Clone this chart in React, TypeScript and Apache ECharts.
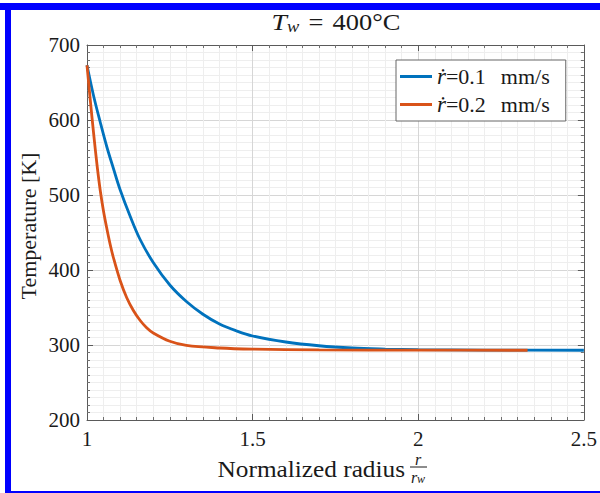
import React, { useEffect, useRef } from "react";
import * as echarts from "echarts";

// Radial temperature profiles around the heated wall (T_w = 400 °C)
const radiusSlow = [1.0, 1.02, 1.04, 1.06, 1.08, 1.1, 1.13, 1.16, 1.2, 1.25, 1.3, 1.35, 1.4, 1.45, 1.5, 1.6, 1.7, 1.8, 1.9, 2.0, 2.2, 2.5];
const tempSlow = [673, 632, 597, 564, 535, 507, 472, 441, 410, 380, 358, 341, 328, 319, 312, 304, 299, 296, 294.6, 293.8, 293.2, 293];

const radiusFast = [1.0, 1.01, 1.02, 1.03, 1.04, 1.05, 1.06, 1.07, 1.08, 1.1, 1.12, 1.14, 1.16, 1.18, 1.2, 1.25, 1.3, 1.4, 1.5, 1.7, 2.0, 2.33];
const tempFast = [673, 626, 582, 541, 506, 478, 455, 434, 416, 386, 363, 346, 333, 323, 316, 305, 299.5, 296, 294.5, 293.5, 293.2, 293];

const seriesNames = ["ṙ=0.1 mm/s", "ṙ=0.2 mm/s"];
const seriesColors = ["#0072BD", "#D95319"];

const xTicks = [1, 1.5, 2, 2.5];
const yTicks = [200, 300, 400, 500, 600, 700];

const SERIF = "'Liberation Serif', 'DejaVu Serif', serif";
const TEXT = "#1a1a1a";

export default function App() {
  const ref = useRef<HTMLDivElement>(null);

  useEffect(() => {
    document.body.style.margin = "0";
    const chart = echarts.init(ref.current!, undefined, { renderer: "svg" });

    const pair = (xs: number[], ys: number[]) => xs.map((x, i) => [x, ys[i]]);

    const baseX = {
      type: "value" as const,
      min: xTicks[0],
      max: xTicks[xTicks.length - 1],
      interval: xTicks[1] - xTicks[0],
    };
    const baseY = {
      type: "value" as const,
      min: yTicks[0],
      max: yTicks[yTicks.length - 1],
      interval: yTicks[1] - yTicks[0],
    };
    const axisLine = { show: true, lineStyle: { color: "#5a5a5a", width: 1 } };
    const tick = { show: true, inside: true, length: 6, lineStyle: { color: "#5a5a5a" } };
    const minorTick = { show: true, splitNumber: 10, length: 3, lineStyle: { color: "#707070" } };
    const majorGrid = { show: true, lineStyle: { color: "#d6d6d6", width: 1 } };
    const minorGrid = { show: true, lineStyle: { color: "#eeeeee", width: 1 } };

    chart.setOption({
      animation: false,
      backgroundColor: "#ffffff",
      grid: { left: 87, top: 45, width: 499, height: 375, containLabel: false },
      xAxis: [
        {
          ...baseX,
          position: "bottom",
          axisLine,
          axisTick: tick,
          minorTick,
          axisLabel: {
            margin: 8,
            color: TEXT,
            fontFamily: SERIF,
            fontSize: 21,
            formatter: (v: number) => String(v),
          },
          splitLine: majorGrid,
          minorSplitLine: minorGrid,
        },
        {
          ...baseX,
          position: "top",
          axisLine,
          axisTick: tick,
          minorTick,
          axisLabel: { show: false },
          splitLine: { show: false },
        },
      ],
      yAxis: [
        {
          ...baseY,
          position: "left",
          axisLine,
          axisTick: tick,
          minorTick,
          axisLabel: {
            margin: 7,
            color: TEXT,
            fontFamily: SERIF,
            fontSize: 21,
          },
          splitLine: majorGrid,
          minorSplitLine: minorGrid,
        },
        {
          ...baseY,
          position: "right",
          axisLine,
          axisTick: tick,
          minorTick,
          axisLabel: { show: false },
          splitLine: { show: false },
        },
      ],
      legend: {
        orient: "vertical",
        left: 396,
        top: 60,
        padding: [5, 16, 5, 4],
        itemGap: 5,
        itemWidth: 32,
        itemHeight: 3,
        icon: "rect",
        backgroundColor: "#ffffff",
        borderColor: "#666",
        borderWidth: 1,
        borderRadius: 0,
        data: seriesNames,
        formatter: (name: string) => {
          const [lhs, unit] = name.split(" ");
          return `{i|${lhs.charAt(0)}}{n|${lhs.slice(1)}}{u|${unit}}`;
        },
        textStyle: {
          color: TEXT,
          fontFamily: SERIF,
          fontSize: 22,
          rich: {
            i: { fontFamily: SERIF, fontStyle: "italic", fontSize: 23, color: TEXT },
            n: { fontFamily: SERIF, fontSize: 22, color: TEXT },
            u: { fontFamily: SERIF, fontSize: 22, color: TEXT, padding: [0, 0, 0, 15] },
          },
        },
      },
      series: [
        {
          name: seriesNames[0],
          type: "line",
          data: pair(radiusSlow, tempSlow),
          smooth: 0.35,
          showSymbol: false,
          lineStyle: { color: seriesColors[0], width: 2.8 },
          itemStyle: { color: seriesColors[0] },
          z: 3,
        },
        {
          name: seriesNames[1],
          type: "line",
          data: pair(radiusFast, tempFast),
          smooth: 0.35,
          showSymbol: false,
          lineStyle: { color: seriesColors[1], width: 2.8 },
          itemStyle: { color: seriesColors[1] },
          z: 4,
        },
      ],
      graphic: [
        // frame
        { type: "rect", shape: { x: 0, y: 3, width: 600, height: 7 }, style: { fill: "#0000ff" }, silent: true },
        { type: "rect", shape: { x: 5, y: 3, width: 6, height: 490 }, style: { fill: "#0000ff" }, silent: true },
        { type: "rect", shape: { x: 5, y: 491, width: 595, height: 2 }, style: { fill: "#0000ff" }, silent: true },
        // title
        {
          type: "text",
          x: 336,
          y: 22,
          scaleX: 1.15,
          style: {
            text: "{t|T}{s|w}{e|=}{n|400°C}",
            align: "center",
            verticalAlign: "middle",
            fill: TEXT,
            rich: {
              t: { fontFamily: SERIF, fontStyle: "italic", fontSize: 24, lineHeight: 26, fill: TEXT },
              s: { fontFamily: SERIF, fontStyle: "italic", fontSize: 16, lineHeight: 14, verticalAlign: "bottom", fill: TEXT },
              e: { fontFamily: SERIF, fontSize: 23, lineHeight: 26, padding: [0, 8, 0, 8], fill: TEXT },
              n: { fontFamily: SERIF, fontSize: 23, lineHeight: 26, fill: TEXT },
            },
          },
        },
        // y-axis name
        {
          type: "text",
          x: 28,
          y: 226,
          rotation: Math.PI / 2,
          style: {
            text: "Temperature [K]",
            align: "center",
            verticalAlign: "middle",
            fontFamily: SERIF,
            fontSize: 22,
            fill: TEXT,
          },
        },
        // x-axis name with fraction r / r_w
        {
          type: "text",
          x: 405,
          y: 469,
          scaleX: 1.1,
          style: {
            text: "Normalized radius",
            align: "right",
            verticalAlign: "middle",
            fontFamily: SERIF,
            fontSize: 23,
            fill: TEXT,
          },
        },
        {
          type: "text",
          x: 418,
          y: 459,
          style: {
            text: "r",
            align: "center",
            verticalAlign: "middle",
            fontFamily: SERIF,
            fontStyle: "italic",
            fontSize: 16,
            fill: TEXT,
          },
        },
        {
          type: "line",
          shape: { x1: 410, y1: 467, x2: 427, y2: 467 },
          style: { stroke: TEXT, lineWidth: 1 },
        },
        {
          type: "text",
          x: 418,
          y: 477,
          style: {
            text: "{r|r}{w|w}",
            align: "center",
            verticalAlign: "middle",
            fill: TEXT,
            rich: {
              r: { fontFamily: SERIF, fontStyle: "italic", fontSize: 16, lineHeight: 16, fill: TEXT },
              w: { fontFamily: SERIF, fontStyle: "italic", fontSize: 12, lineHeight: 10, verticalAlign: "bottom", fill: TEXT },
            },
          },
        },
      ],
    });

    return () => chart.dispose();
  }, []);

  return <div ref={ref} style={{ width: 600, height: 493, background: "#fff" }} />;
}
